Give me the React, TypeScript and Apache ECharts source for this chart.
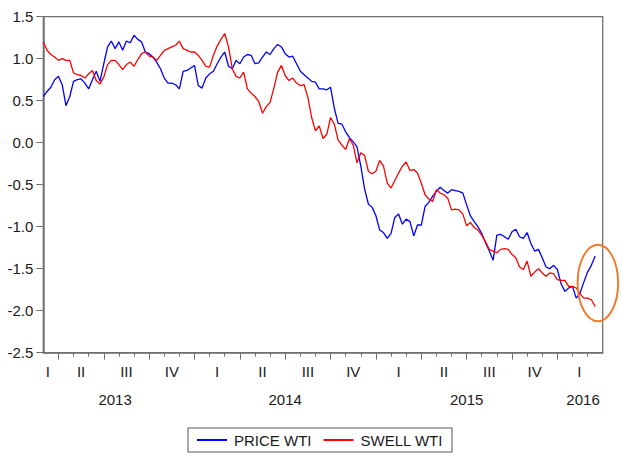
import React, { useEffect, useRef } from "react";
import * as echarts from "echarts";

// x position: months since 1 Jan 2013; observations every quarter month from 1 Mar 2013
const START_MONTH = 2;
const STEP_MONTHS = 0.25;
const X_MIN = 2;
const X_MAX = 39;

const priceWti = [
  0.55, 0.61, 0.66, 0.75, 0.79, 0.69, 0.44, 0.55, 0.73, 0.75,
  0.76, 0.71, 0.64, 0.75, 0.85, 0.73, 0.94, 1.14, 1.21, 1.12,
  1.2, 1.1, 1.21, 1.19, 1.28, 1.23, 1.2, 1.08, 1.06, 1.02,
  0.96, 0.88, 0.77, 0.71, 0.71, 0.69, 0.64, 0.85, 0.86, 0.89,
  0.92, 0.68, 0.65, 0.77, 0.82, 0.85, 0.94, 1.02, 1.08, 0.91,
  0.88, 0.98, 0.94, 1.02, 1.05, 1.04, 0.94, 0.95, 1.02, 1.08,
  1.05, 1.12, 1.17, 1.14, 1.06, 1.02, 1.03, 0.94, 0.85, 0.81,
  0.77, 0.73, 0.72, 0.64, 0.64, 0.63, 0.66, 0.41, 0.23, 0.22,
  0.13, 0.06, 0.01, -0.05, -0.28, -0.55, -0.73, -0.77, -0.87, -1.04,
  -1.07, -1.14, -1.08, -0.89, -0.85, -0.97, -0.91, -0.94, -1.11, -0.98,
  -0.98, -0.76, -0.71, -0.64, -0.58, -0.53, -0.57, -0.6, -0.56, -0.57,
  -0.58, -0.6, -0.74, -0.87, -0.94, -1.0, -1.08, -1.19, -1.29, -1.4,
  -1.1, -1.09, -1.12, -1.15, -1.06, -1.03, -1.12, -1.14, -1.07, -1.2,
  -1.29, -1.27, -1.37, -1.48, -1.5, -1.46, -1.51, -1.68, -1.77, -1.73,
  -1.71, -1.85, -1.79, -1.66, -1.54, -1.46, -1.35,
];

const swellWti = [
  1.2, 1.1, 1.05, 1.02, 0.98, 1.0, 0.98, 0.98, 0.83, 0.81,
  0.8, 0.77, 0.82, 0.86, 0.74, 0.7, 0.78, 0.93, 0.98, 0.98,
  0.93, 0.87, 0.93, 0.96, 0.91, 0.99, 1.06, 1.08, 1.03, 1.02,
  0.98, 1.04, 1.1, 1.12, 1.14, 1.16, 1.21, 1.12, 1.1, 1.08,
  1.08, 1.04, 0.98, 0.91, 0.9, 1.04, 1.15, 1.23, 1.3, 1.14,
  0.88, 0.79, 0.77, 0.84, 0.64, 0.59, 0.55, 0.49, 0.35, 0.43,
  0.48, 0.65, 0.84, 0.92, 0.8, 0.74, 0.77, 0.71, 0.68, 0.69,
  0.54, 0.3, 0.14, 0.2, 0.05, 0.1, 0.3, 0.22, 0.03, -0.03,
  -0.08, 0.05, -0.03, -0.24, -0.12, -0.15, -0.34, -0.37, -0.34, -0.21,
  -0.28, -0.48, -0.54, -0.45, -0.36, -0.28, -0.23, -0.33, -0.32, -0.36,
  -0.48, -0.62, -0.67, -0.7, -0.56, -0.6, -0.62, -0.66, -0.8, -0.79,
  -0.8, -0.85, -0.99, -0.95, -1.01, -1.04, -1.1, -1.18, -1.27, -1.29,
  -1.31, -1.27, -1.26, -1.27, -1.33, -1.37, -1.48, -1.51, -1.41, -1.59,
  -1.54, -1.5, -1.55, -1.59, -1.55, -1.56, -1.63, -1.64, -1.64, -1.71,
  -1.71, -1.73, -1.8, -1.85, -1.85, -1.87, -1.95,
];

const seriesNames = ["PRICE WTI", "SWELL WTI"];

const monthTicks = [
  3, 4, 5, 6, 7, 8, 9, 10, 11, 12, 13, 14, 15, 16, 17, 18, 19, 20, 21, 22,
  23, 24, 25, 26, 27, 28, 29, 30, 31, 32, 33, 34, 35, 36, 37, 38,
];
const quarterTicks = [3, 6, 9, 12, 15, 18, 21, 24, 27, 30, 33, 36];
const quarterLabelPos = [2.3, 4.5, 7.5, 10.5, 13.5, 16.5, 19.5, 22.5, 25.5, 28.5, 31.5, 34.5, 37.45];
const quarterLabels = ["I", "II", "III", "IV", "I", "II", "III", "IV", "I", "II", "III", "IV", "I"];
const yearLabelPos = [6.75, 18, 30, 37.7];
const yearLabels = ["2013", "2014", "2015", "2016"];

// annotation ellipse (data coords: centre month/value, radii in months/value)
const annotCenter = [38.68, -1.67];
const annotRadius = [1.34, 0.456];

const FONT = "'Liberation Sans', Arial, Helvetica, sans-serif";
const AXIS_COLOR = "#707070";
const TEXT_COLOR = "#1a1a1a";

function lookup(pos: number[], labels: string[], v: number) {
  const k = pos.findIndex((p) => Math.abs(p - v) < 1e-6);
  return k >= 0 ? labels[k] : "";
}

export default function App() {
  const ref = useRef<HTMLDivElement>(null);

  useEffect(() => {
    if (!ref.current) return;
    const chart = echarts.init(ref.current, null, { renderer: "svg" });
    const toPairs = (arr: number[]) => arr.map((v, i) => [START_MONTH + i * STEP_MONTHS, v]);
    const baseX = {
      type: "value" as const,
      min: X_MIN,
      max: X_MAX,
      position: "bottom" as const,
      splitLine: { show: false },
    };
    chart.setOption({
      animation: false,
      backgroundColor: "#ffffff",
      textStyle: { fontFamily: FONT },
      grid: {
        left: 43.3,
        top: 16.7,
        width: 559.4,
        height: 336,
        show: true,
        borderColor: AXIS_COLOR,
        borderWidth: 1.3,
        outerBoundsMode: "none",
      },
      legend: {
        data: seriesNames,
        left: 188,
        top: 428,
        orient: "horizontal",
        icon: "rect",
        itemWidth: 30,
        itemHeight: 2,
        itemGap: 12,
        padding: [4, 9, 4, 9],
        borderColor: "#555555",
        borderWidth: 1,
        borderRadius: 0,
        textStyle: { fontSize: 15, color: TEXT_COLOR, fontFamily: FONT, padding: [0, 0, 0, 2], lineHeight: 16 },
      },
      xAxis: [
        {
          ...baseX,
          axisLine: { show: true, onZero: false, lineStyle: { color: AXIS_COLOR, width: 1.5 } },
          axisTick: { show: true, customValues: monthTicks, length: 4, inside: false, lineStyle: { color: AXIS_COLOR, width: 1 } },
          axisLabel: { show: false },
        },
        {
          ...baseX,
          axisLine: { show: false, onZero: false },
          axisTick: { show: true, customValues: quarterTicks, length: 7, inside: false, lineStyle: { color: AXIS_COLOR, width: 1 } },
          axisLabel: {
            show: true,
            customValues: quarterLabelPos,
            formatter: (v: number) => lookup(quarterLabelPos, quarterLabels, v),
            margin: 11,
            fontSize: 15,
            color: TEXT_COLOR,
            fontFamily: FONT,
          },
        },
        {
          ...baseX,
          axisLine: { show: false, onZero: false },
          axisTick: { show: false },
          axisLabel: {
            show: true,
            customValues: yearLabelPos,
            formatter: (v: number) => lookup(yearLabelPos, yearLabels, v),
            margin: 39,
            fontSize: 15,
            color: TEXT_COLOR,
            fontFamily: FONT,
          },
        },
      ],
      yAxis: {
        type: "value",
        min: -2.5,
        max: 1.5,
        interval: 0.5,
        splitLine: { show: false },
        axisLine: { show: true, onZero: false, lineStyle: { color: AXIS_COLOR, width: 1.5 } },
        axisTick: { show: true, length: 7, inside: false, lineStyle: { color: AXIS_COLOR, width: 1 } },
        axisLabel: {
          formatter: (v: number) => v.toFixed(1),
          margin: 10,
          fontSize: 15,
          color: TEXT_COLOR,
          fontFamily: FONT,
        },
      },
      series: [
        {
          name: seriesNames[0],
          type: "line",
          xAxisIndex: 0,
          data: toPairs(priceWti),
          showSymbol: false,
          symbol: "none",
          color: "#0000ff",
          lineStyle: { color: "#0000ff", width: 1.3 },
        },
        {
          name: seriesNames[1],
          type: "line",
          xAxisIndex: 0,
          data: toPairs(swellWti),
          showSymbol: false,
          symbol: "none",
          color: "#ff0000",
          lineStyle: { color: "#ff0000", width: 1.3 },
        },
      ],
    });

    const c = chart.convertToPixel({ xAxisIndex: 0, yAxisIndex: 0 }, annotCenter) as number[];
    const e = chart.convertToPixel({ xAxisIndex: 0, yAxisIndex: 0 }, [
      annotCenter[0] + annotRadius[0],
      annotCenter[1] + annotRadius[1],
    ]) as number[];
    if (c && e) {
      chart.setOption({
        graphic: [
          {
            type: "ellipse",
            shape: { cx: c[0], cy: c[1], rx: Math.abs(e[0] - c[0]), ry: Math.abs(c[1] - e[1]) },
            style: { fill: "none", stroke: "#ED7D31", lineWidth: 2 },
            z: 100,
          },
        ],
      });
    }

    return () => chart.dispose();
  }, []);

  return (
    <div
      ref={ref}
      style={{ position: "fixed", left: 0, top: 0, width: 640, height: 476, background: "#ffffff" }}
    />
  );
}
